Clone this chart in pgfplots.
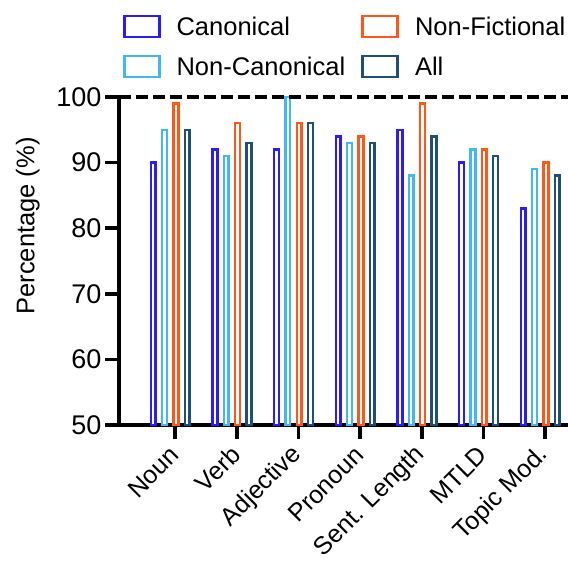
\documentclass[border=0pt]{standalone}
\usepackage{pgfplots}
\pgfplotsset{compat=1.18}
\usepackage{fontspec}
\setmainfont{Liberation Sans}

\definecolor{canon}{RGB}{43,27,245}
\definecolor{noncan}{RGB}{64,184,245}
\definecolor{nonfic}{RGB}{255,87,26}
\definecolor{allc}{RGB}{31,78,121}

\pgfplotsset{
  boxlegend/.style={
    legend image code/.code={
      \draw[##1, fill=white, line width=2.8pt] (0pt,-10.5pt) rectangle (35pt,10.5pt);
    }
  },
  hollowbar/.style={draw=#1, fill=white, line width=2.5pt},
}

\begin{document}
\begin{tikzpicture}
\useasboundingbox (-119pt,-137pt) rectangle (449pt,425pt);
\begin{axis}[
  scale only axis,
  width=449pt, height=328pt,
  ybar, bar width=4.8pt,
  xmin=-0.83, xmax=6.45,
  ymin=50, ymax=100,
  axis x line*=bottom, axis y line*=left,
  axis line style={line width=3.8pt, line cap=rect},
  ytick={50,60,70,80,90,100},
  xtick={0.08,1.08,2.08,3.08,4.08,5.08,6.08},
  xticklabels={Noun,Verb,Adjective,Pronoun,Sent. Length,MTLD,Topic Mod.},
  tick align=outside,
  major tick length=14pt,
  every tick/.style={black, line width=3.6pt},
  yticklabel style={font=\fontsize{27}{32}\selectfont},
  xticklabel style={font=\fontsize{25}{30}\selectfont, rotate=45, anchor=east, inner sep=1pt},
  xticklabel shift=11pt,
  /pgf/number format/assume math mode=true,
  ylabel={Percentage (\%)},
  ylabel style={font=\fontsize{25.5}{30}\selectfont, at={(axis description cs:-0.203,0.607)}, anchor=center},
  legend columns=2,
  transpose legend,
  legend style={draw=none, fill=none, font=\fontsize{25.5}{30}\selectfont,
    at={(axis description cs:0.008,1.252)}, anchor=north west, inner sep=0pt,
    column sep=14pt, row sep=16pt},
  legend cell align=left,
  boxlegend,
  clip=false,
]
\addplot[hollowbar=canon, bar shift=-17pt] coordinates {
  (0,90) (1,92) (2,92) (3,94) (4,95) (5,90) (6,83)};
\addlegendentry{Canonical}
\addplot[hollowbar=noncan, bar shift=-5.7pt] coordinates {
  (0,95) (1,91) (2,100) (3,93) (4,88) (5,92) (6,89)};
\addlegendentry{Non-Canonical}
\addplot[hollowbar=nonfic, bar shift=5.7pt] coordinates {
  (0,99) (1,96) (2,96) (3,94) (4,99) (5,92) (6,90)};
\addlegendentry{Non-Fictional}
\addplot[hollowbar=allc, bar shift=17pt] coordinates {
  (0,95) (1,93) (2,96) (3,93) (4,94) (5,91) (6,88)};
\addlegendentry{All}
\addplot[sharp plot, black, line width=3.2pt, dash pattern=on 12pt off 5pt, forget plot]
  coordinates {(-0.83,100) (6.45,100)};
\end{axis}
\end{tikzpicture}
\end{document}
